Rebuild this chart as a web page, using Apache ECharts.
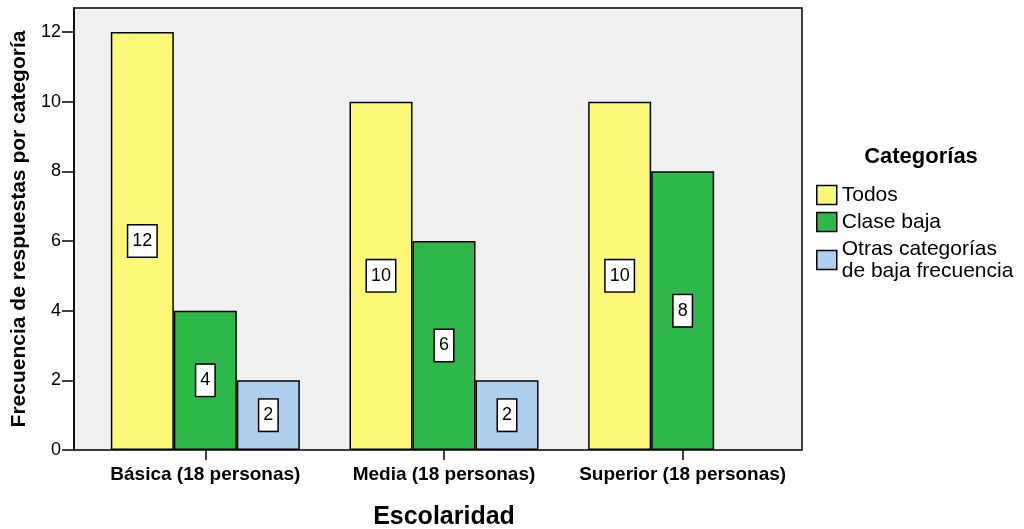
<!DOCTYPE html>
<html>
<head>
<meta charset="utf-8">
<script src="https://cdn.jsdelivr.net/npm/echarts@6/dist/echarts.min.js"></script>
<style>
  html, body { margin: 0; padding: 0; background: #fff; }
  #chart { width: 1024px; height: 529px; }
</style>
</head>
<body>
<div id="chart"></div>
<script>
// Frequency of responses per category, grouped by schooling level
const categories = ['Básica (18 personas)', 'Media (18 personas)', 'Superior (18 personas)'];
const todos = [12, 10, 10];
const claseBaja = [4, 6, 8];
const otrasCategorias = [2, 2, null];
const yTicks = [0, 2, 4, 6, 8, 10, 12];
const seriesNames = ['Todos', 'Clase baja', 'Otras categorías\nde baja frecuencia'];
const yMax = 12.69;

const FONT = '"Liberation Sans", Arial, sans-serif';
const colors = ['#FBF877', '#2EB84A', '#AECFEE'];

const chart = echarts.init(document.getElementById('chart'), null, { renderer: 'canvas' });

const valueLabel = {
  show: true,
  position: 'inside',
  color: '#000',
  fontFamily: FONT,
  fontSize: 18,
  lineHeight: 19,
  backgroundColor: '#fff',
  borderColor: '#000',
  borderWidth: 1.5,
  padding: [6, 4, 6, 4]
};

function barSeries(name, data, color) {
  return {
    name: name,
    type: 'bar',
    xAxisIndex: 1,
    yAxisIndex: 1,
    data: data,
    barGap: '0%',
    barCategoryGap: '20.8%',
    itemStyle: { color: color, borderColor: '#000', borderWidth: 1.5 },
    label: valueLabel,
    emphasis: { disabled: true }
  };
}

chart.setOption({
  animation: false,
  backgroundColor: '#fff',
  textStyle: { fontFamily: FONT },
  title: {
    text: 'Categorías',
    left: 921,
    top: 146,
    padding: 0,
    textAlign: 'center',
    textStyle: { fontFamily: FONT, fontSize: 22, fontWeight: 'bold', color: '#000' }
  },
  legend: {
    orient: 'vertical',
    left: 816,
    top: 184,
    padding: 0,
    itemGap: 5,
    itemWidth: 20,
    itemHeight: 19,
    icon: 'rect',
    selectedMode: false,
    data: seriesNames,
    itemStyle: { borderColor: '#000', borderWidth: 1.5 },
    textStyle: { fontFamily: FONT, fontSize: 21, lineHeight: 22, color: '#000' }
  },
  grid: [
    {
      // plot frame and shared value scale
      left: 74, right: 222, top: 8, bottom: 79,
      outerBoundsMode: 'none',
      containLabel: false,
      show: true,
      backgroundColor: '#F0F0F0',
      borderColor: '#000',
      borderWidth: 1.5
    },
    {
      // bar groups
      left: 86, right: 222, top: 8, bottom: 79,
      outerBoundsMode: 'none',
      containLabel: false
    }
  ],
  xAxis: [
    {
      gridIndex: 0, type: 'category', data: categories, show: false
    },
    {
      gridIndex: 1,
      type: 'category',
      data: categories,
      name: 'Escolaridad',
      nameLocation: 'middle',
      nameGap: 55,
      nameTextStyle: { fontFamily: FONT, fontSize: 25, fontWeight: 'bold', color: '#000' },
      axisLine: { show: false },
      axisTick: { show: true, alignWithLabel: true, length: 10, lineStyle: { color: '#000', width: 1.5 } },
      axisLabel: { interval: 0, hideOverlap: false, margin: 15, fontFamily: FONT, fontSize: 19, fontWeight: 'bold', color: '#000' },
      splitLine: { show: false }
    }
  ],
  yAxis: [
    {
      gridIndex: 0,
      type: 'value',
      min: 0,
      max: yMax,
      name: 'Frecuencia de respuestas por categoría',
      nameLocation: 'middle',
      nameGap: 44,
      nameTextStyle: { fontFamily: FONT, fontSize: 21, fontWeight: 'bold', color: '#000' },
      axisLine: { show: true, lineStyle: { color: '#000', width: 1.5 } },
      axisTick: { show: true, length: 12, customValues: yTicks, lineStyle: { color: '#000', width: 1.5 } },
      axisLabel: { margin: 13, customValues: yTicks, fontFamily: FONT, fontSize: 18, color: '#000' },
      splitLine: { show: false }
    },
    {
      gridIndex: 1,
      type: 'value',
      min: 0,
      max: yMax,
      show: false,
      splitLine: { show: false }
    }
  ],
  series: [
    barSeries(seriesNames[0], todos, colors[0]),
    barSeries(seriesNames[1], claseBaja, colors[1]),
    barSeries(seriesNames[2], otrasCategorias, colors[2])
  ]
});
</script>
</body>
</html>
